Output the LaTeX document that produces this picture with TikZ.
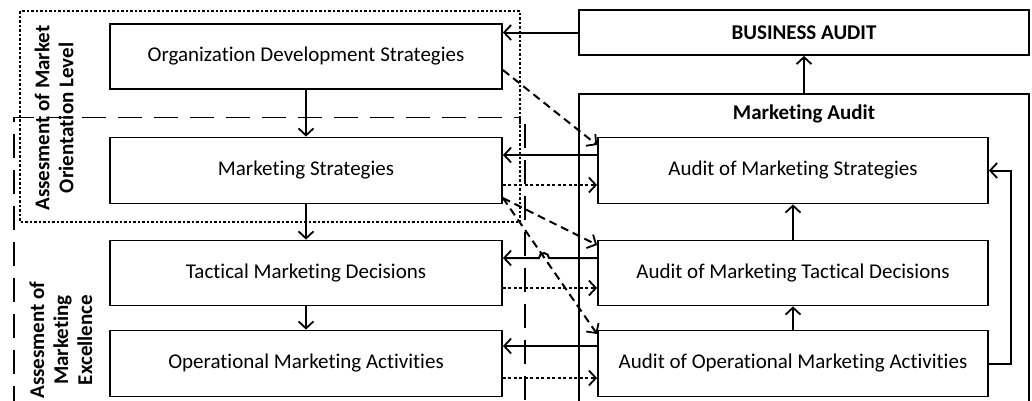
\documentclass[tikz,border=0pt]{standalone}
\usepackage{fontspec}
\setmainfont{Carlito}[RawFeature={-liga;-clig;-dlig;-calt}]
\usetikzlibrary{arrows.meta,calc}
\begin{document}
\begin{tikzpicture}[x=1pt,y=-1pt,
  every node/.style={font=\fontsize{21}{24}\selectfont, inner sep=0pt},
  box/.style={draw, line width=1.8pt, minimum width=392pt},
  abox/.style={draw, line width=1.8pt, minimum width=390pt},
  bold/.style={font=\fontsize{21}{24}\selectfont\bfseries},
  arr/.style={line width=2pt, -{Straight Barb[length=7pt,width=15pt,line width=1.8pt]}},
  darr/.style={arr, dash pattern=on 8pt off 5pt},
  parr/.style={arr, dash pattern=on 3pt off 2.5pt},
  dotbox/.style={line width=1.4pt, dash pattern=on 2.5pt off 2pt},
  longdash/.style={line width=1.8pt, dash pattern=on 24pt off 12pt}]
\clip (0,0) rectangle (1032,400);
\fill[white] (0,0) rectangle (1032,400);

% left column
\node[box, minimum height=65pt] (ods) at (306,56.5) {Organization Development Strategies};
\node[box, minimum height=66pt] (ms) at (306,170.5) {Marketing Strategies};
\node[box, minimum height=65pt] (tmd) at (306,273) {Tactical Marketing Decisions};
\node[box, minimum height=66pt] (oma) at (306,363.5) {Operational Marketing Activities};

% right column
\node[draw, line width=1.8pt, minimum width=450pt, minimum height=45pt, bold] (ba) at (804,32.5) {BUSINESS AUDIT};
\node[draw, line width=1.8pt, minimum width=450pt, minimum height=330pt, anchor=north] (ma) at (804,93) {};
\node[bold] (mal) at (804,114) {Marketing Audit};
\node[abox, minimum height=66pt] (ams) at (793,170.5) {Audit of Marketing Strategies};
\node[abox, minimum height=65pt] (amt) at (793,273) {Audit of Marketing Tactical Decisions};
\node[abox, minimum height=66pt] (amo) at (793,363.5) {Audit of Operational Marketing Activities};

% side labels
\node[bold, rotate=90, align=center] (l1) at (54,118) {Assesment of Market\\Orientation Level};
\node[bold, rotate=90, align=center] (l2) at (61,340) {Assesment of\\Marketing\\Excellence};

% grouping frames
\draw[dotbox] (20,11) rectangle (520,222);
\draw[longdash] (14,410) -- (14,117.5) -- (520,117.5) -- (520,124);
\draw[longdash] (525,124) -- (525,410);

% vertical arrows
\draw[arr] (ods.south) -- (ms.north);
\draw[arr] (ms.south) -- (tmd.north);
\draw[arr] (tmd.south) -- (oma.north);
\draw[arr] (ma.north) -- (ba.south);
\draw[arr] (amt.north) -- (ams.south);
\draw[arr] (amo.north) -- (amt.south);
\draw[arr] (amo.east) -- ++(22,0) |- (ams.east);

% horizontal arrows
\draw[arr] (ba.west) -- (ba.west -| ods.east);
\draw[arr] (ams.west |- {(0,155)}) -- (ms.east |- {(0,155)});
\draw[parr] (ms.east |- {(0,185)}) -- (ams.west |- {(0,185)});
\draw[arr] (amt.west |- {(0,258)}) -- (549,258) arc[start angle=0, end angle=-180, radius=5] -- (tmd.east |- {(0,258)});
\draw[parr] (tmd.east |- {(0,288)}) -- (amt.west |- {(0,288)});
\draw[arr] (amo.west |- {(0,346)}) -- (oma.east |- {(0,346)});
\draw[parr] (oma.east |- {(0,378)}) -- (amo.west |- {(0,378)});

% dashed diagonals
\draw[darr] (ods.east |- {(0,70)}) -- (ams.west |- {(0,145)});
\draw[darr] (ms.east |- {(0,198)}) -- (amt.west |- {(0,245)});
\draw[darr] (ms.east |- {(0,198)}) -- (amo.west |- {(0,334)});
\end{tikzpicture}
\end{document}
